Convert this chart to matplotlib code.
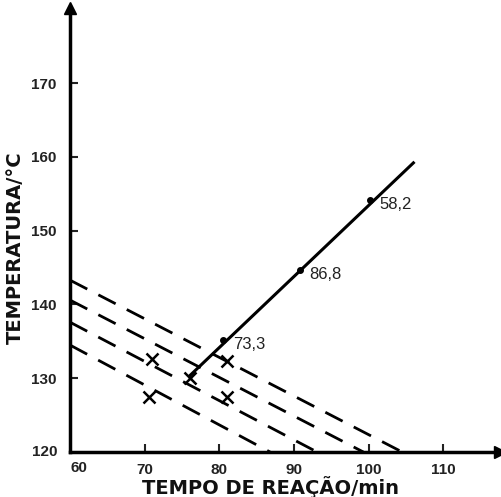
import matplotlib
matplotlib.use("Agg")
import matplotlib.pyplot as plt

plt.rcParams['font.family'] = ['Liberation Sans', 'DejaVu Sans']

# linha solida (ajuste)
line_t = [76.1, 106.0]
line_T = [130.4, 159.2]

# pontos marcados na reta e seus rotulos
pt_t = [80.5, 90.8, 100.2]
pt_T = [135.2, 144.7, 154.1]
pt_lab = ['73,3', '86,8', '58,2']

# pontos experimentais (x)
x_t = [71.0, 70.6, 76.1, 81.0, 81.0]
x_T = [132.6, 127.4, 130.0, 132.4, 127.5]

# retas tracejadas: temperatura em t=60 e tempo onde chegam a 120
dash_T0 = [143.3, 140.6, 137.6, 134.5]
dash_tend = [104.5, 99.3, 93.1, 86.8]

xticks = [70, 80, 90, 100, 110]
yticks = [130, 140, 150, 160, 170]

fig = plt.figure(figsize=(5.01, 4.97), dpi=100)
ax = fig.add_axes([0.1397, 0.0905, 0.8583, 0.8935])

for T0, te in zip(dash_T0, dash_tend):
    ax.plot([60, te], [T0, 120], color='black', lw=2.0, dashes=(7, 4.5), solid_capstyle='butt')

ax.plot(line_t, line_T, color='black', lw=2.2)
ax.plot(pt_t, pt_T, 'o', color='black', ms=4)
for t, T, s in zip(pt_t, pt_T, pt_lab):
    ax.text(t + 1.3, T - 0.6, s, fontsize=12, color='#222222', va='center', ha='left')

ax.plot(x_t, x_T, 'x', color='black', ms=9, mew=1.8)

ax.set_xlim(60, 117.6)
ax.set_ylim(120, 180.2)
ax.spines['top'].set_visible(False)
ax.spines['right'].set_visible(False)
ax.spines['left'].set_linewidth(2.5)
ax.spines['bottom'].set_linewidth(2.5)
ax.plot(1, 0, '>k', ms=8, transform=ax.transAxes, clip_on=False)
ax.plot(0, 1, '^k', ms=8, transform=ax.transAxes, clip_on=False)

ax.set_xticks(xticks)
ax.set_yticks(yticks)
ax.tick_params(direction='in', length=6, width=1.5, labelsize=11, colors='#222222')
ax.tick_params(axis='x', pad=8)
ax.tick_params(axis='y', pad=10)
for lb in ax.get_xticklabels() + ax.get_yticklabels():
    lb.set_fontweight('bold')
ax.text(-0.03, 0, '120', transform=ax.transAxes, ha='right', va='center',
        fontsize=11, fontweight='bold', color='#222222')
ax.text(0.02, -0.036, '60', transform=ax.transAxes, ha='center', va='center',
        fontsize=11, fontweight='bold', color='#222222')

fig.text(271 / 501, 1 - 487 / 497, 'TEMPO DE REAÇÃO/min', ha='center', va='center',
         fontsize=14, fontweight='bold', family='DejaVu Sans', color='#111111')
fig.text(15 / 501, 1 - 248 / 497, 'TEMPERATURA/°C', ha='center', va='center',
         rotation=90, fontsize=14, fontweight='bold', family='DejaVu Sans', color='#111111')

fig.savefig('out.png', dpi=100)
